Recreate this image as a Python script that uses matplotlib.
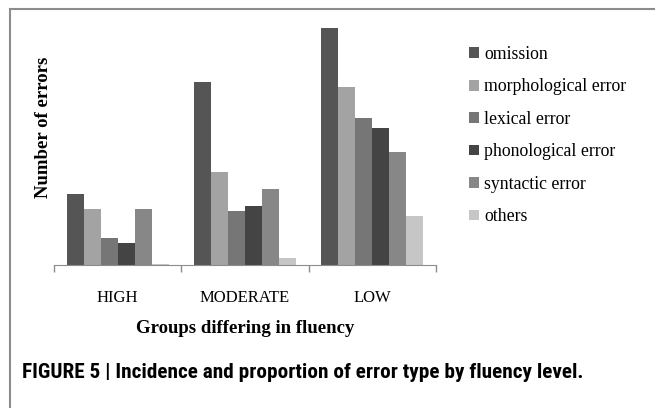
import numpy as np
import matplotlib.pyplot as plt
from matplotlib.lines import Line2D

# values (arbitrary units, no y scale shown)
groups = ['HIGH', 'MODERATE', 'LOW']
error_types = ['omission', 'morphological error', 'lexical error',
               'phonological error', 'syntactic error', 'others']
omission = [71, 183, 237]
morphological = [56, 93, 178]
lexical = [27, 54, 147]
phonological = [22, 59, 137]
syntactic = [56, 76, 113]
others = [1, 7, 49]

colors = ['#555555', '#a3a3a3', '#767676', '#444444', '#878787', '#c6c6c6']
series = [omission, morphological, lexical, phonological, syntactic, others]

serif = ['Liberation Serif', 'DejaVu Serif']

fig = plt.figure(figsize=(6.55, 4.08), dpi=100)
ax = fig.add_axes([54 / 655, 1 - 265 / 408, 382 / 655, 250 / 408])

x = np.arange(len(groups))
w = 0.8 / len(series)
for i, (vals, c) in enumerate(zip(series, colors)):
    ax.bar(x - 0.4 + w * (i + 0.5), vals, width=w, color=c, label=error_types[i])

ax.set_xlim(-0.5, 2.5)
ax.set_ylim(0, 250)
for s in ['top', 'right', 'left']:
    ax.spines[s].set_visible(False)
ax.spines['bottom'].set_color('#8c8c8c')
ax.set_yticks([])
ax.set_xticks(x)
ax.set_xticklabels(groups, fontfamily=serif, fontsize=12)
ax.tick_params(axis='x', which='major', length=0, pad=18)
ax.set_xticks([-0.5, 0.5, 1.5, 2.5], minor=True)
ax.tick_params(axis='x', which='minor', length=5, color='#8c8c8c', width=1)
ax.set_xlabel('Groups differing in fluency', fontfamily=serif, fontsize=13.5,
              fontweight='bold', labelpad=10)
ax.set_ylabel('Number of errors', fontfamily=serif, fontsize=13.5,
              fontweight='bold')
ax.yaxis.set_label_coords(-0.005, 0.55)

ax.legend(loc='upper left', bbox_to_anchor=(1.045, 0.94), frameon=False,
          prop={'family': serif, 'size': 12.8}, handlelength=0.55,
          handleheight=0.55, handletextpad=0.3, labelspacing=0.87)

# outer frame (left and top edges visible)
fig.add_artist(Line2D([10 / 655, 10 / 655], [0, 1 - 9 / 408],
                      transform=fig.transFigure, color='#8c8c8c', lw=1.5))
fig.add_artist(Line2D([10 / 655, 1], [1 - 9 / 408, 1 - 9 / 408],
                      transform=fig.transFigure, color='#8c8c8c', lw=1.5))

fig.text(22 / 655, 1 - 373 / 408,
         'FIGURE 5 | Incidence and proportion of error type by fluency level.',
         family=['Roboto Condensed', 'Liberation Sans Narrow', 'Roboto', 'DejaVu Sans'],
         fontsize=15.3, fontweight='bold', va='center', ha='left')

fig.savefig('out.png', dpi=100)
